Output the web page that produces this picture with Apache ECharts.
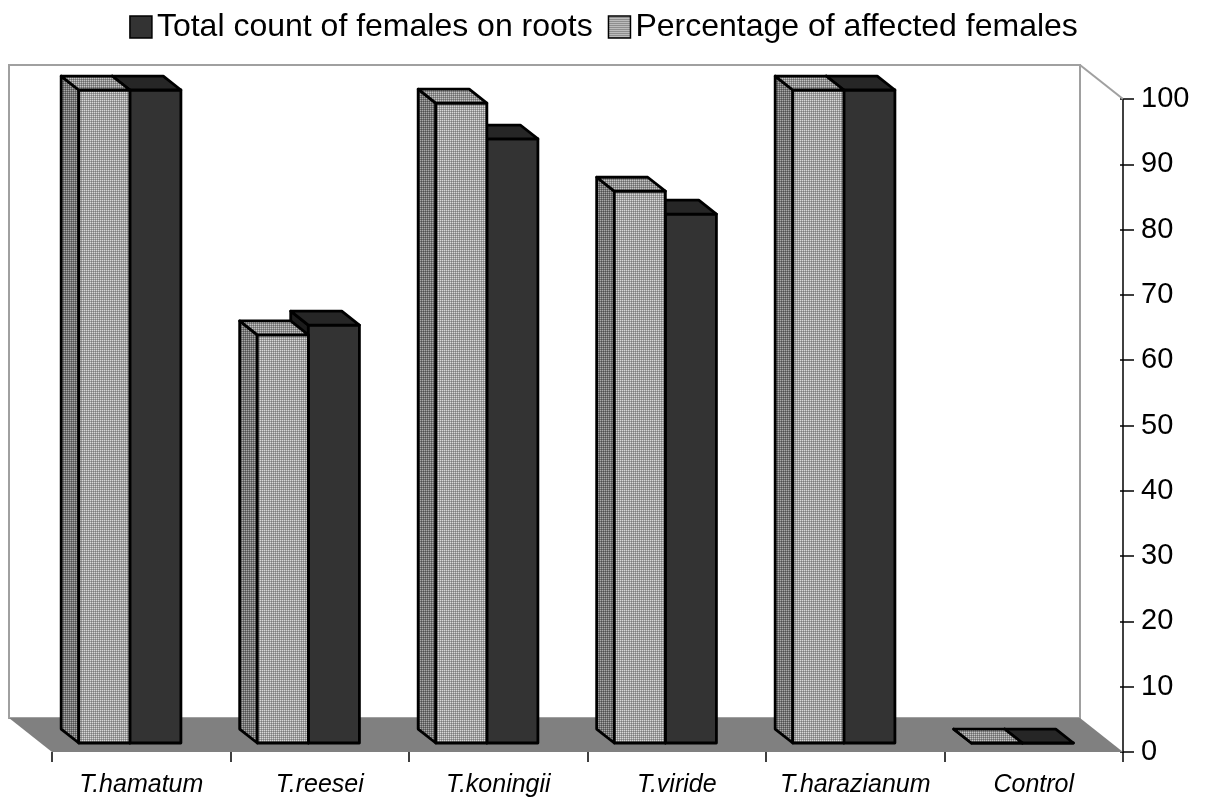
<!DOCTYPE html>
<html>
<head>
<meta charset="utf-8">
<script src="https://cdn.jsdelivr.net/npm/echarts@6/dist/echarts.min.js"></script>
<style>
  html, body { margin: 0; padding: 0; background: #fff; }
  #chart { width: 1207px; height: 805px; }
</style>
</head>
<body>
<div id="chart"></div>
<script>
// Treatments on the category axis
const categories = ['T.hamatum', 'T.reesei', 'T.koningii', 'T.viride', 'T.harazianum', 'Control'];
// Series values
const totalCount = [100, 64, 92.5, 81, 100, 0];
const percentAffected = [100, 62.5, 98, 84.5, 100, 0];
const seriesNames = ['Total count of females on roots', 'Percentage of affected females'];
// Value axis ticks
const yMin = 0, yMax = 100, yStep = 10;

const FONT = '"Liberation Sans", Arial, Helvetica, sans-serif';

// Oblique depth vector: from the front plane to the back wall (px)
const DEPTH_X = -43, DEPTH_Y = -34;
// Bars sit between these depth fractions
const BAR_FRONT = 0.265, BAR_BACK = 0.675;
// Width of one bar as a fraction of the category band
const BAR_FRAC = 0.286;

// Small dotted texture for the light bars
function dotPattern(a, b, c) {
  const cv = document.createElement('canvas');
  cv.width = 2; cv.height = 2;
  const ctx = cv.getContext('2d');
  ctx.fillStyle = b; ctx.fillRect(0, 0, 2, 2);
  ctx.fillStyle = a; ctx.fillRect(0, 0, 1, 1);
  ctx.fillStyle = c; ctx.fillRect(1, 1, 1, 1);
  return { image: cv, repeat: 'repeat' };
}

const lightFaces = {
  front: dotPattern('#d8d8d8', '#a0a0a0', '#7c7c7c'),
  top: dotPattern('#c4c4c4', '#8e8e8e', '#6a6a6a'),
  side: dotPattern('#a8a8a8', '#747474', '#505050')
};
const darkFaces = { front: '#333333', top: '#262626', side: '#1c1c1c' };

// Draws one 3D column: left side face, front face, top face
function barRenderer(faces, slot) {
  return function (params, api) {
    const i = api.value(0), v = api.value(1);
    const base = api.coord([i, 0]);
    const top = api.coord([i, v]);
    const w = api.size([1, 0])[0] * BAR_FRAC;
    const x0 = base[0] + (slot === 0 ? -w : 0);
    const fx = DEPTH_X * BAR_FRONT, fy = DEPTH_Y * BAR_FRONT;
    const bx = DEPTH_X * BAR_BACK, by = DEPTH_Y * BAR_BACK;
    const yT = top[1], yB = base[1];
    const poly = (pts, fill) => ({
      type: 'polygon',
      shape: { points: pts },
      style: { fill: fill, stroke: '#000', lineWidth: 2.8, lineJoin: 'round' }
    });
    const side = [[x0 + fx, yT + fy], [x0 + bx, yT + by], [x0 + bx, yB + by], [x0 + fx, yB + fy]];
    const front = [[x0 + fx, yT + fy], [x0 + w + fx, yT + fy], [x0 + w + fx, yB + fy], [x0 + fx, yB + fy]];
    const cap = [[x0 + fx, yT + fy], [x0 + w + fx, yT + fy], [x0 + w + bx, yT + by], [x0 + bx, yT + by]];
    return {
      type: 'group',
      children: [poly(side, faces.side), poly(front, faces.front), poly(cap, faces.top)]
    };
  };
}

// Back wall and floor of the plot box
function wallRenderer(params) {
  const cs = params.coordSys;
  const L = cs.x, R = cs.x + cs.width, T = cs.y, B = cs.y + cs.height;
  return {
    type: 'group',
    silent: true,
    children: [
      { type: 'rect', shape: { x: L + DEPTH_X, y: T + DEPTH_Y, width: cs.width, height: cs.height },
        style: { fill: '#ffffff', stroke: '#a0a0a0', lineWidth: 2 } },
      { type: 'line', shape: { x1: R + DEPTH_X, y1: T + DEPTH_Y, x2: R, y2: T },
        style: { stroke: '#a0a0a0', lineWidth: 2 } },
      { type: 'polygon', shape: { points: [[L + DEPTH_X, B + DEPTH_Y], [R + DEPTH_X, B + DEPTH_Y], [R, B], [L, B]] },
        style: { fill: '#808080' } }
    ]
  };
}

const chart = echarts.init(document.getElementById('chart'), null, { renderer: 'canvas' });

chart.setOption({
  animation: false,
  backgroundColor: '#ffffff',
  textStyle: { fontFamily: FONT },
  legend: {
    top: 6,
    left: 'center',
    icon: 'rect',
    itemWidth: 22,
    itemHeight: 22,
    itemGap: 15,
    selectedMode: false,
    textStyle: { fontSize: 32, color: '#000', fontFamily: FONT },
    data: [
      { name: seriesNames[0], itemStyle: { color: darkFaces.front, borderColor: '#000', borderWidth: 1.5 } },
      { name: seriesNames[1], itemStyle: { color: lightFaces.front, borderColor: '#000', borderWidth: 1.5 } }
    ]
  },
  grid: { left: 52, right: 84, top: 99, bottom: 53, containLabel: false },
  xAxis: {
    type: 'category',
    data: categories,
    boundaryGap: true,
    axisLine: { show: false },
    axisTick: { show: true, interval: 0, length: 10, lineStyle: { color: '#000', width: 1.5 } },
    axisLabel: { interval: 0, fontSize: 25, fontStyle: 'italic', color: '#000', margin: 21, fontFamily: FONT },
    splitLine: { show: false }
  },
  yAxis: [
    {
      type: 'value',
      position: 'right',
      min: yMin, max: yMax, interval: yStep,
      axisLine: { show: true, lineStyle: { color: '#000', width: 1.5 } },
      axisTick: { show: true, length: 11, lineStyle: { color: '#000', width: 1.5 } },
      axisLabel: { fontSize: 29, color: '#000', margin: 18, fontFamily: FONT },
      splitLine: { show: false }
    },
    {
      type: 'value',
      position: 'right',
      min: yMin, max: yMax, interval: yStep,
      axisLine: { show: false },
      axisTick: { show: true, inside: true, length: 3, lineStyle: { color: '#000', width: 1.5 } },
      axisLabel: { show: false },
      splitLine: { show: false }
    }
  ],
  series: [
    {
      type: 'custom',
      name: 'walls',
      silent: true,
      z: 1,
      renderItem: wallRenderer,
      data: [[0, 0]],
      encode: { x: 0, y: 1 }
    },
    {
      type: 'custom',
      name: seriesNames[0],
      z: 2,
      renderItem: barRenderer(darkFaces, 1),
      data: categories.map((c, i) => [i, totalCount[i]]),
      encode: { x: 0, y: 1 },
      itemStyle: { color: darkFaces.front }
    },
    {
      type: 'custom',
      name: seriesNames[1],
      z: 3,
      renderItem: barRenderer(lightFaces, 0),
      data: categories.map((c, i) => [i, percentAffected[i]]),
      encode: { x: 0, y: 1 },
      itemStyle: { color: lightFaces.front }
    }
  ]
});
</script>
</body>
</html>
